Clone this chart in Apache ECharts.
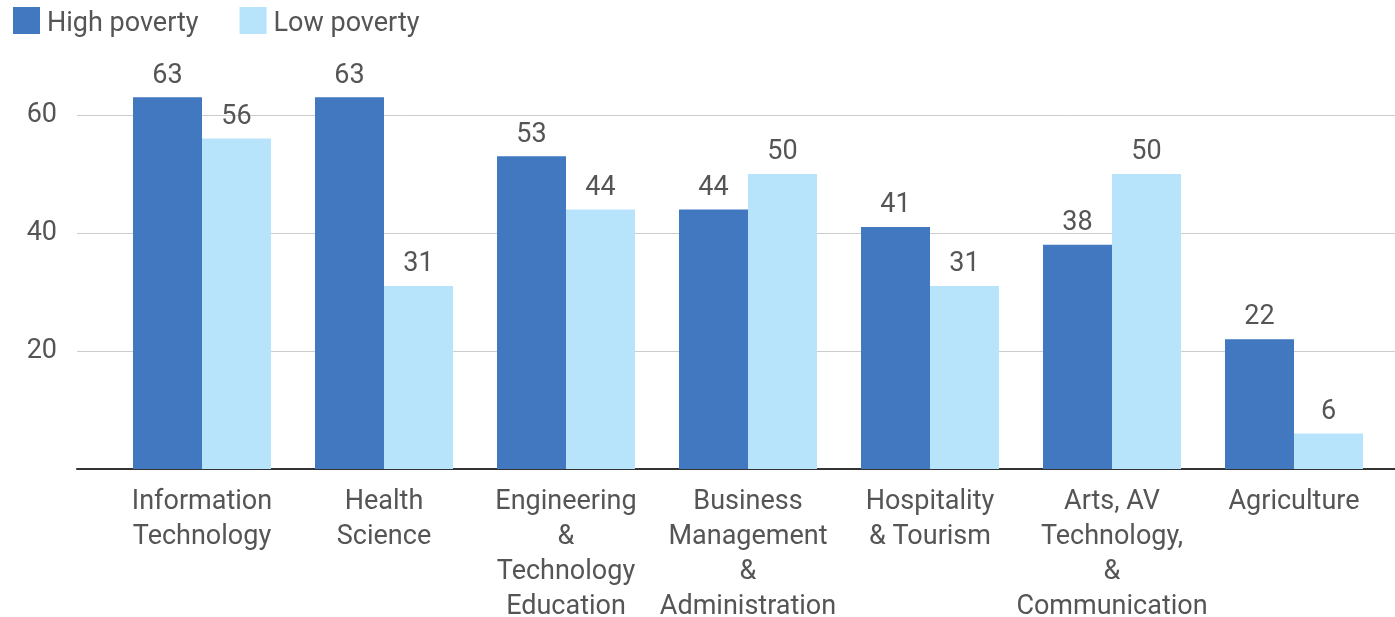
<!DOCTYPE html>
<html>
<head>
<meta charset="utf-8">
<script src="https://cdn.jsdelivr.net/npm/echarts@6/dist/echarts.min.js"></script>
<style>html,body{margin:0;padding:0;background:#fff}#c{width:1395px;height:617px}</style>
</head>
<body>
<div id="c"></div>
<script>
var categories = [
  "Information\nTechnology",
  "Health\nScience",
  "Engineering\n&\nTechnology\nEducation",
  "Business\nManagement\n&\nAdministration",
  "Hospitality\n& Tourism",
  "Arts, AV\nTechnology,\n&\nCommunication",
  "Agriculture"
];
var highPoverty = [63, 63, 53, 44, 41, 38, 22];
var lowPoverty = [56, 31, 44, 50, 31, 50, 6];
var yTicks = [0, 20, 40, 60];

var textColor = '#555555';
var font = 'Roboto';
var fs = 27;
var chart = echarts.init(document.getElementById('c'), null, {renderer: 'canvas'});
chart.setOption({
  animation: false,
  textStyle: {fontFamily: font},
  legend: {
    left: 13, top: 7, padding: 0,
    itemWidth: 27, itemHeight: 27, itemGap: 41,
    icon: 'rect',
    formatter: '{t|{name}}',
    textStyle: {
      fontSize: fs, color: textColor, fontFamily: font,
      rich: {t: {fontSize: fs, color: textColor, fontFamily: font, padding: [7, 0, 0, 2]}}
    },
    data: ['High poverty', 'Low poverty']
  },
  grid: [
    {left: 111, right: 10, top: 56, bottom: 148, containLabel: false, outerBoundsMode: 'none'},
    {left: 77, right: 0, top: 56, bottom: 148, containLabel: false, outerBoundsMode: 'none'}
  ],
  xAxis: [
    {
      type: 'category', gridIndex: 0, data: categories,
      axisLine: {show: false}, axisTick: {show: false},
      axisLabel: {fontSize: fs, color: textColor, lineHeight: 35, margin: 16, interval: 0, fontFamily: font}
    },
    {
      type: 'value', gridIndex: 1, min: 0, max: 1,
      axisLine: {show: true, onZero: false, lineStyle: {color: '#333', width: 2}},
      axisTick: {show: false}, axisLabel: {show: false}, splitLine: {show: false}
    }
  ],
  yAxis: [
    {
      type: 'value', gridIndex: 0, min: 0, max: 70, interval: 20,
      show: false, splitLine: {show: false}
    },
    {
      type: 'value', gridIndex: 1, min: 0, max: 70, interval: 20,
      axisLine: {show: false}, axisTick: {show: false},
      axisLabel: {
        fontSize: fs, color: textColor, margin: 20, fontFamily: font,
        showMaxLabel: false,
        formatter: function (v) { return (v === 0 || yTicks.indexOf(v) < 0) ? '' : String(v); }
      },
      splitLine: {show: true, showMinLine: false, showMaxLine: false, lineStyle: {color: '#cccccc', width: 1}}
    }
  ],
  series: [
    {
      name: 'High poverty', type: 'bar', xAxisIndex: 0, yAxisIndex: 0,
      data: highPoverty, barWidth: 69, barGap: '0%',
      itemStyle: {color: '#4178bf'},
      label: {show: true, position: 'top', distance: 8, fontSize: fs, color: textColor, fontFamily: font}
    },
    {
      name: 'Low poverty', type: 'bar', xAxisIndex: 0, yAxisIndex: 0,
      data: lowPoverty, barWidth: 69, barGap: '0%',
      itemStyle: {color: '#b8e4fb'},
      label: {show: true, position: 'top', distance: 8, fontSize: fs, color: textColor, fontFamily: font}
    }
  ]
});
</script>
</body>
</html>
